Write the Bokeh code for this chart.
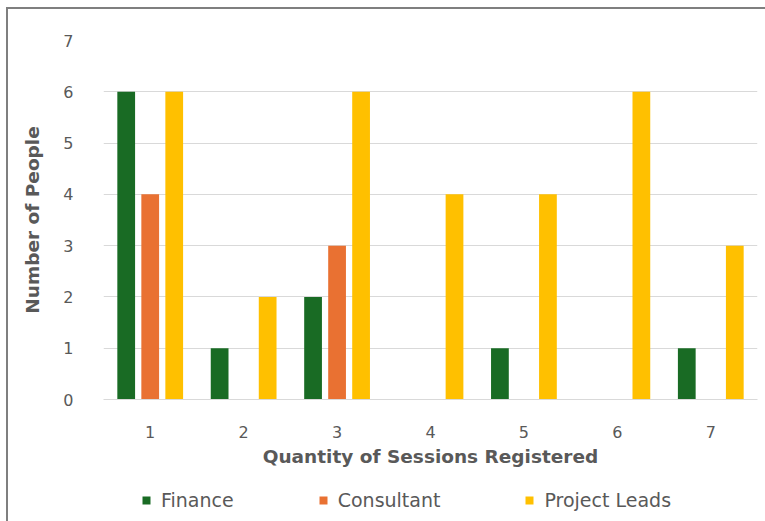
from bokeh.plotting import figure
from bokeh.layouts import column
from bokeh.models import (ColumnDataSource, Range1d, FixedTicker, Legend, LegendItem)
from bokeh.transform import dodge
from bokeh.embed import file_html
from bokeh.resources import INLINE

sessions = [1, 2, 3, 4, 5, 6, 7]
finance = [6, 1, 2, 0, 1, 0, 1]
consultant = [4, 0, 3, 0, 0, 0, 0]
project_leads = [6, 2, 6, 4, 4, 6, 3]
series_names = ["Finance", "Consultant", "Project Leads"]
colors = ["#196B24", "#E97132", "#FFC000"]
y_ticks = [0, 1, 2, 3, 4, 5, 6, 7]

src = ColumnDataSource(dict(x=sessions, Finance=finance, Consultant=consultant,
                            ProjectLeads=project_leads))

TXT = "#595959"
FONT = "DejaVu Sans"
fields = ["Finance", "Consultant", "ProjectLeads"]
offs = [-0.257, 0.0, 0.257]

# main chart
p = figure(width=757, height=465, output_backend="svg", toolbar_location=None,
           x_range=Range1d(0.5, 7.5), y_range=Range1d(0, 7),
           min_border_left=95, min_border_top=31, min_border_right=8,
           min_border_bottom=75)
p.outline_line_color = None
p.background_fill_color = "white"
p.border_fill_color = "white"

for f, o, c in zip(fields, offs, colors):
    p.vbar(x=dodge("x", o, range=p.x_range), top=f, width=0.19, source=src,
           fill_color=c, line_color=None)

p.xgrid.visible = False
p.ygrid.grid_line_color = "#d9d9d9"
p.ygrid.grid_line_width = 1
p.ygrid.ticker = FixedTicker(ticks=y_ticks)

p.yaxis.ticker = FixedTicker(ticks=y_ticks)
p.yaxis.axis_line_color = None
p.yaxis.major_tick_line_color = None
p.yaxis.minor_tick_line_color = None
p.yaxis.major_label_standoff = 24
p.yaxis.major_label_text_font = FONT
p.yaxis.major_label_text_font_size = "16px"
p.yaxis.major_label_text_color = TXT
p.yaxis.axis_label = "Number of People"
p.yaxis.axis_label_text_font = FONT
p.yaxis.axis_label_text_font_style = "bold"
p.yaxis.axis_label_text_font_size = "18.5px"
p.yaxis.axis_label_text_color = TXT
p.yaxis.axis_label_standoff = 17

p.xaxis.ticker = FixedTicker(ticks=sessions)
p.xaxis.axis_line_color = "#d9d9d9"
p.xaxis.major_tick_line_color = None
p.xaxis.minor_tick_line_color = None
p.xaxis.major_label_standoff = 20
p.xaxis.major_label_text_font = FONT
p.xaxis.major_label_text_font_size = "16px"
p.xaxis.major_label_text_color = TXT
p.xaxis.axis_label = "Quantity of Sessions Registered"
p.xaxis.axis_label_text_font = FONT
p.xaxis.axis_label_text_font_style = "bold"
p.xaxis.axis_label_text_font_size = "18.5px"
p.xaxis.axis_label_text_color = TXT
p.xaxis.axis_label_standoff = 5

# legend strip below the chart
p2 = figure(width=757, height=47, output_backend="svg", toolbar_location=None,
            x_range=Range1d(0.5, 7.5), y_range=Range1d(100, 101),
            x_axis_location=None, y_axis_location=None, min_border=0)
p2.outline_line_color = None
p2.grid.visible = False
p2.border_fill_color = "white"
leg_renderers = []
for f, o, c in zip(fields, offs, colors):
    leg_renderers.append(p2.vbar(x=dodge("x", o, range=p2.x_range), top=f, width=0.19,
                                 source=src, fill_color=c, line_color=None))

legend = Legend(items=[LegendItem(label=n, renderers=[r]) for n, r in zip(series_names, leg_renderers)],
                orientation="horizontal", location=(38, 10),
                glyph_width=10, glyph_height=10, label_standoff=10, spacing=84,
                padding=0, margin=0, border_line_color=None, background_fill_alpha=0,
                label_text_font=FONT, label_text_font_size="19px", label_text_color=TXT,
                label_height=20)
p2.add_layout(legend, "center")

layout = column(p, p2, spacing=0)
layout.styles = {"border-left": "2px solid #7f7f7f", "border-top": "2px solid #7f7f7f",
                 "margin-left": "6px", "margin-top": "7px"}

open("out.html", "w").write(file_html(layout, INLINE))
